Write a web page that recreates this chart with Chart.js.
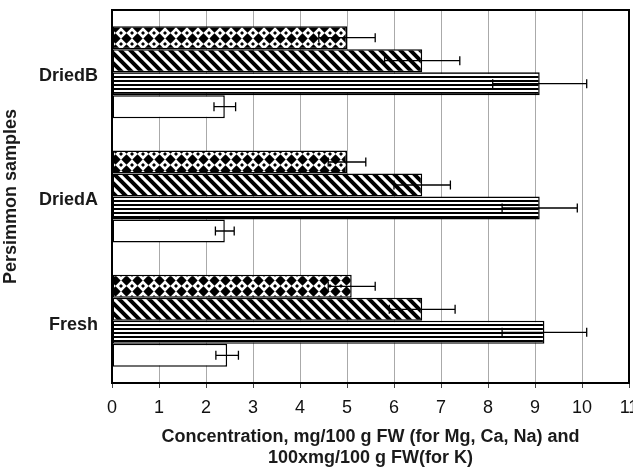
<!DOCTYPE html>
<html>
<head>
<meta charset="utf-8">
<script src="https://cdn.jsdelivr.net/npm/chart.js@4"></script>
<style>
  html, body { margin: 0; padding: 0; background: #fff; }
  #wrap { width: 633px; height: 467px; }
</style>
</head>
<body>
<div id="wrap"><canvas id="myChart" width="633" height="467"></canvas></div>
<script>
// data
const categories = ['DriedB', 'DriedA', 'Fresh'];
const diamondVals = [5.0, 5.0, 5.1];
const diamondErr = [0.6, 0.4, 0.5];
const diagVals = [6.6, 6.6, 6.6];
const diagErr = [0.8, 0.6, 0.7];
const hlineVals = [9.1, 9.1, 9.2];
const hlineErr = [1.0, 0.8, 0.9];
const blankVals = [2.4, 2.4, 2.45];
const blankErr = [0.23, 0.2, 0.24];
const xTicks = [0, 1, 2, 3, 4, 5, 6, 7, 8, 9, 10, 11];

const FONT = "'Liberation Sans', Arial, Helvetica, sans-serif";

function tile(w, h, draw) {
    const c = document.createElement('canvas');
    c.width = w;
    c.height = h;
    const g = c.getContext('2d');
    g.fillStyle = '#fff';
    g.fillRect(0, 0, w, h);
    g.fillStyle = '#000';
    g.strokeStyle = '#000';
    draw(g);
    return document.getElementById('myChart').getContext('2d').createPattern(c, 'repeat');
}

function diamond(g, cx, cy, r) {
    g.beginPath();
    g.moveTo(cx - r, cy);
    g.lineTo(cx, cy - r);
    g.lineTo(cx + r, cy);
    g.lineTo(cx, cy + r);
    g.closePath();
    g.fill();
}

const diamondPat = tile(11, 11, g => {
    diamond(g, 5.5, 5.5, 5.2);
    diamond(g, 0, 0, 2);
    diamond(g, 11, 0, 2);
    diamond(g, 0, 11, 2);
    diamond(g, 11, 11, 2);
});

const diagPat = tile(10, 10, g => {
    g.lineWidth = 4;
    g.beginPath();
    g.moveTo(-3, -3); g.lineTo(13, 13);
    g.moveTo(-3, 7); g.lineTo(3, 13);
    g.moveTo(7, -3); g.lineTo(13, 3);
    g.stroke();
});

const hlinePat = tile(4, 4, g => {
    g.fillRect(0, 0, 4, 2);
});

const errors = [diamondErr, diagErr, hlineErr, blankErr];

const errorBars = {
    id: 'errorBars',
    afterDatasetsDraw(chart) {
        const ctx = chart.ctx;
        const xs = chart.scales.x;
        ctx.save();
        ctx.strokeStyle = '#000';
        ctx.lineWidth = 1.3;
        chart.data.datasets.forEach((ds, i) => {
            const meta = chart.getDatasetMeta(i);
            meta.data.forEach((bar, j) => {
                const v = ds.data[j];
                const e = errors[i][j];
                const x1 = xs.getPixelForValue(v - e);
                const x2 = xs.getPixelForValue(v + e);
                const y = bar.y;
                ctx.beginPath();
                ctx.moveTo(x1, y); ctx.lineTo(x2, y);
                ctx.moveTo(x1, y - 4.5); ctx.lineTo(x1, y + 4.5);
                ctx.moveTo(x2, y - 4.5); ctx.lineTo(x2, y + 4.5);
                ctx.stroke();
            });
        });
        ctx.restore();
    }
};

const frame = {
    id: 'frame',
    afterDraw(chart) {
        const a = chart.chartArea;
        const ctx = chart.ctx;
        ctx.save();
        ctx.strokeStyle = '#000';
        ctx.lineWidth = 2;
        ctx.strokeRect(a.left, a.top, a.right - a.left, a.bottom - a.top);
        ctx.restore();
    }
};

const barStyle = {
    borderColor: '#000',
    borderWidth: 1.5,
    borderSkipped: false,
    categoryPercentage: 0.74,
    barPercentage: 1.0
};

const ctx = document.getElementById('myChart').getContext('2d');

const chart = new Chart(ctx, {
    type: 'bar',
    data: {
        labels: categories,
        datasets: [
            Object.assign({ label: 'Series 1', data: diamondVals, backgroundColor: diamondPat }, barStyle),
            Object.assign({ label: 'Series 2', data: diagVals, backgroundColor: diagPat }, barStyle),
            Object.assign({ label: 'Series 3', data: hlineVals, backgroundColor: hlinePat }, barStyle),
            Object.assign({ label: 'Series 4', data: blankVals, backgroundColor: '#fff' }, barStyle)
        ]
    },
    plugins: [errorBars, frame],
    options: {
        indexAxis: 'y',
        responsive: false,
        animation: false,
        events: [],
        layout: {
            padding: { top: 10, right: 4, left: 0, bottom: 0 }
        },
        plugins: {
            legend: { display: false },
            tooltip: { enabled: false }
        },
        scales: {
            x: {
                min: xTicks[0],
                max: xTicks[xTicks.length - 1],
                afterBuildTicks(scale) {
                    scale.ticks = xTicks.map(v => ({ value: v }));
                },
                afterFit(scale) {
                    scale.height = 84;
                    scale.paddingLeft = 0;
                    scale.paddingRight = 0;
                },
                grid: {
                    color: '#aaaaaa',
                    lineWidth: 1,
                    tickLength: 5,
                    tickColor: '#444'
                },
                border: { display: false },
                ticks: {
                    color: '#111',
                    padding: 9,
                    maxRotation: 0,
                    autoSkip: false,
                    font: { family: FONT, size: 18 }
                },
                title: {
                    display: true,
                    text: ['Concentration, mg/100 g FW (for Mg, Ca, Na) and', '100xmg/100 g FW(for K)'],
                    color: '#1a1a1a',
                    padding: { top: 0, bottom: -2 },
                    font: { family: FONT, size: 18, weight: 'bold', lineHeight: '21px' }
                }
            },
            y: {
                afterFit(scale) {
                    scale.width = 112;
                    scale.paddingTop = 0;
                    scale.paddingBottom = 0;
                },
                grid: { display: false, drawTicks: false },
                border: { display: false },
                ticks: {
                    color: '#1a1a1a',
                    padding: 14,
                    // blank first line nudges the name a few px down, as in the picture
                    callback(value) {
                        return ['', this.getLabelForValue(value)];
                    },
                    font: { family: FONT, size: 18, weight: 'bold', lineHeight: '8px' }
                },
                title: {
                    display: true,
                    text: 'Persimmon samples',
                    color: '#1a1a1a',
                    padding: { top: 0, bottom: 0 },
                    font: { family: FONT, size: 18, weight: 'bold' }
                }
            }
        }
    }
});
</script>
</body>
</html>
